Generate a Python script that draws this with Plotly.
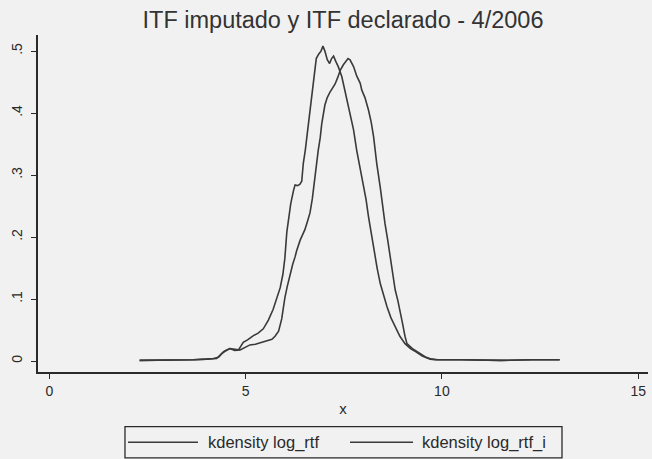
import plotly.graph_objects as go

# Kernel density estimates (x = log income, y = density)
x_rtf = [2.30, 3.00, 3.66, 4.00, 4.18, 4.31, 4.44, 4.60, 4.70, 4.82, 4.94, 5.05,
         5.20, 5.32, 5.45, 5.58, 5.70, 5.79, 5.88, 5.95, 6.00, 6.05, 6.10, 6.15,
         6.22, 6.26, 6.32, 6.38, 6.43, 6.47, 6.52, 6.56, 6.64, 6.69, 6.75, 6.80,
         6.86, 6.92, 6.97, 7.02, 7.08, 7.14, 7.19, 7.24, 7.30, 7.36, 7.45, 7.53,
         7.62, 7.70, 7.75, 7.83, 7.92, 8.00, 8.07, 8.13, 8.20, 8.26, 8.35, 8.43,
         8.52, 8.60, 8.70, 8.81, 8.93, 9.06, 9.20, 9.36, 9.50, 9.70, 9.85, 10.5,
         11.5, 12.3, 13.0]
y_rtf = [0.001, 0.001, 0.002, 0.003, 0.004, 0.006, 0.015, 0.020, 0.019, 0.018, 0.030, 0.034,
         0.041, 0.045, 0.052, 0.066, 0.083, 0.100, 0.118, 0.140, 0.166, 0.208, 0.235, 0.254,
         0.275, 0.284, 0.283, 0.285, 0.290, 0.319, 0.340, 0.362, 0.400, 0.437, 0.470, 0.488,
         0.495, 0.500, 0.508, 0.500, 0.486, 0.480, 0.488, 0.492, 0.483, 0.475, 0.459, 0.435,
         0.410, 0.388, 0.373, 0.340, 0.312, 0.287, 0.260, 0.233, 0.205, 0.179, 0.150, 0.125,
         0.105, 0.088, 0.070, 0.055, 0.040, 0.028, 0.020, 0.014, 0.008, 0.003, 0.002, 0.002,
         0.001, 0.002, 0.002]

x_rtf_i = [2.30, 3.00, 3.70, 4.00, 4.26, 4.39, 4.50, 4.60, 4.72, 4.86, 4.98, 5.11,
           5.25, 5.37, 5.50, 5.60, 5.67, 5.75, 5.84, 5.92, 5.96, 6.00, 6.06, 6.13,
           6.20, 6.26, 6.30, 6.39, 6.47, 6.51, 6.56, 6.64, 6.70, 6.75, 6.80, 6.85,
           6.90, 6.94, 7.02, 7.08, 7.15, 7.22, 7.28, 7.35, 7.41, 7.49, 7.56, 7.61,
           7.66, 7.75, 7.83, 7.92, 7.96, 8.04, 8.13, 8.20, 8.26, 8.30, 8.34, 8.43,
           8.49, 8.55, 8.62, 8.68, 8.75, 8.81, 8.88, 8.94, 9.00, 9.06, 9.11, 9.25,
           9.44, 9.60, 9.74, 9.90, 10.5, 11.5, 12.3, 13.0]
y_rtf_i = [0.001, 0.001, 0.002, 0.003, 0.004, 0.012, 0.017, 0.020, 0.017, 0.018, 0.022, 0.026,
           0.027, 0.029, 0.031, 0.033, 0.035, 0.040, 0.048, 0.068, 0.086, 0.102, 0.120, 0.140,
           0.156, 0.168, 0.178, 0.195, 0.206, 0.212, 0.222, 0.239, 0.262, 0.290, 0.315, 0.340,
           0.360, 0.383, 0.413, 0.425, 0.434, 0.440, 0.447, 0.458, 0.469, 0.478, 0.485, 0.488,
           0.486, 0.475, 0.460, 0.448, 0.437, 0.425, 0.405, 0.385, 0.362, 0.340, 0.319, 0.280,
           0.250, 0.222, 0.195, 0.168, 0.142, 0.115, 0.097, 0.080, 0.060, 0.040, 0.028, 0.020,
           0.012, 0.006, 0.003, 0.002, 0.002, 0.001, 0.002, 0.002]

x_ticks = [0, 5, 10, 15]
y_ticks = [0, 0.1, 0.2, 0.3, 0.4, 0.5]
y_tick_text = ["0", ".1", ".2", ".3", ".4", ".5"]
legend_labels = ["kdensity log_rtf", "kdensity log_rtf_i"]

line_color = "#3a3a3a"
ink = "#2a2a2a"
bg = "#f1f1f1"
font = "Liberation Sans, Arial, sans-serif"

fig = go.Figure()
fig.add_trace(go.Scatter(x=x_rtf, y=y_rtf, mode="lines", name=legend_labels[0],
                         line=dict(color=line_color, width=1.6), showlegend=False))
fig.add_trace(go.Scatter(x=x_rtf_i, y=y_rtf_i, mode="lines", name=legend_labels[1],
                         line=dict(color=line_color, width=1.6), showlegend=False))

axis_common = dict(showline=True, linecolor=ink, linewidth=1.5, showgrid=False,
                   zeroline=False, ticks="outside", ticklen=5, tickwidth=1.2,
                   tickcolor=ink, mirror=False,
                   tickfont=dict(family=font, size=14, color=ink))

fig.update_layout(
    width=652, height=459,
    margin=dict(l=38, r=4, t=35, b=87),
    paper_bgcolor=bg, plot_bgcolor=bg,
    title=dict(text="ITF imputado y ITF declarado - 4/2006", x=0.5, xref="paper",
               xanchor="center", y=1 - 20 / 459, yanchor="middle",
               font=dict(family=font, size=23.5, color="#333333")),
    xaxis=dict(range=[-0.288, 15.25], tickvals=x_ticks, **axis_common,
               title=dict(text="x", standoff=6, font=dict(family=font, size=15, color=ink))),
    yaxis=dict(range=[-0.0177, 0.526], tickvals=y_ticks, ticktext=y_tick_text,
               tickangle=-90, ticklabelstandoff=4, **axis_common),
    showlegend=False,
)

# Boxed legend below the plot
leg_y = -0.2086
fig.add_shape(type="rect", xref="paper", yref="paper", x0=0.1426, x1=0.859,
              y0=-0.255, y1=-0.162, line=dict(color=ink, width=1.3))
for x0, x1, tx, label in [(0.1475, 0.2623, 0.2787, legend_labels[0]),
                          (0.5115, 0.6148, 0.6295, legend_labels[1])]:
    fig.add_shape(type="line", xref="paper", yref="paper", x0=x0, x1=x1,
                  y0=leg_y, y1=leg_y, line=dict(color=line_color, width=1.6))
    fig.add_annotation(xref="paper", yref="paper", x=tx, y=leg_y, text=label,
                       showarrow=False, xanchor="left", yanchor="middle",
                       xshift=-2, font=dict(family=font, size=16.5, color=ink))

fig.write_html("out.html")
